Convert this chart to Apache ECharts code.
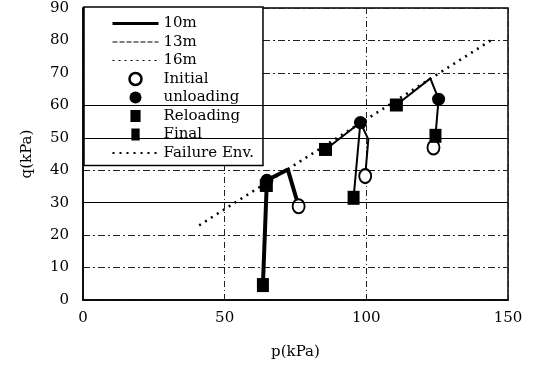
<!DOCTYPE html>
<html>
<head>
<meta charset="utf-8">
<script src="https://cdn.jsdelivr.net/npm/echarts@6/dist/echarts.min.js"></script>
<style>
  html, body { margin: 0; padding: 0; background: #fff; }
  #chart { width: 534px; height: 366px; }
</style>
</head>
<body>
<div id="chart"></div>
<script>
// Stress paths (p, q in kPa) for the three sampling depths
const path10m = [[76.1, 28.9], [72.3, 40.2], [64.9, 36.9], [63.5, 4.6]];
const path13m = [[99.6, 38.2], [100.7, 49.5], [97.9, 54.7], [95.5, 31.5]];
const path13mReload = [[85.6, 46.4], [97.9, 54.7]];
const path16m = [[110.6, 60.1], [122.6, 68.3], [125.5, 61.9], [124.4, 50.6], [123.7, 47.0]];

// Stage markers
const initialPts = [[76.1, 28.9], [99.6, 38.2], [123.7, 47.0]];
const unloadingPts = [[64.9, 36.9], [97.9, 54.7], [125.5, 61.9]];
const reloadingPts = [[64.7, 35.3], [85.6, 46.4], [110.6, 60.1]];
const finalPts = [[63.5, 4.6], [95.5, 31.5], [124.4, 50.6]];

// Failure envelope
const failureEnv = [[41, 23], [145, 80.6]];

// Axis ticks
const xTicks = [0, 50, 100, 150];
const yTicks = [0, 10, 20, 30, 40, 50, 60, 70, 80, 90];
const solidYLines = [30, 50, 60];

const FONT = 'DejaVu Serif';
const chart = echarts.init(document.getElementById('chart'), null, { renderer: 'canvas' });

function pathSeries(name, data, width) {
  return {
    name: name, type: 'line', data: data, symbol: 'none', z: 3,
    lineStyle: { color: '#000', width: width },
    itemStyle: { color: '#000' }
  };
}

// Legend entries for the paths: line only, no marker
const noMarker = { color: 'transparent', borderWidth: 0, opacity: 0 };

const option = {
  backgroundColor: '#fff',
  animation: false,
  grid: {
    left: 83, right: 26, top: 8, bottom: 66,
    show: true, borderColor: '#000', borderWidth: 1.5, backgroundColor: 'transparent'
  },
  xAxis: {
    type: 'value', min: xTicks[0], max: xTicks[xTicks.length - 1], interval: 50,
    name: 'p(kPa)', nameLocation: 'middle', nameGap: 45,
    nameTextStyle: { fontFamily: FONT, fontSize: 15, color: '#000' },
    axisLine: { show: true, lineStyle: { color: '#000', width: 1.5 } },
    axisTick: { show: false },
    axisLabel: { fontFamily: FONT, fontSize: 15, color: '#000', margin: 11 },
    splitLine: { show: true, lineStyle: { color: '#222', width: 1, type: [6, 3, 1, 3] } }
  },
  yAxis: {
    type: 'value', min: yTicks[0], max: yTicks[yTicks.length - 1], interval: 10,
    name: 'q(kPa)', nameLocation: 'middle', nameGap: 48,
    nameTextStyle: { fontFamily: FONT, fontSize: 15, color: '#000' },
    axisLine: { show: true, lineStyle: { color: '#000', width: 1.5 } },
    axisTick: { show: false },
    axisLabel: { fontFamily: FONT, fontSize: 15, color: '#000', margin: 14 },
    splitLine: { show: true, lineStyle: { color: '#222', width: 1, type: [7, 3, 2, 3] } }
  },
  legend: {
    orient: 'vertical', left: 84, top: 7,
    backgroundColor: '#fff', borderColor: '#000', borderWidth: 1.5, borderRadius: 0,
    padding: [9, 9, 5, 27],
    itemWidth: 46, itemHeight: 12, itemGap: 3.5,
    textStyle: { fontFamily: FONT, fontSize: 15, color: '#000' },
    data: [
      { name: '10m', lineStyle: { width: 3 }, itemStyle: noMarker },
      { name: '13m', lineStyle: { width: 1, type: [5, 2] }, itemStyle: noMarker },
      { name: '16m', lineStyle: { width: 1, type: [2, 4] }, itemStyle: noMarker },
      { name: 'Initial', icon: 'circle', itemStyle: { color: '#fff', borderColor: '#000', borderWidth: 2.5 } },
      { name: 'unloading', icon: 'circle' },
      { name: 'Reloading', icon: 'path://M0,0h11v13h-11z' },
      { name: 'Final', icon: 'path://M0,0h9v13h-9z' },
      { name: 'Failure Env.', lineStyle: { width: 2, type: [2, 5] }, itemStyle: noMarker }
    ]
  },
  series: [
    {
      name: 'Failure Env.', type: 'line', data: failureEnv, symbol: 'none', z: 2,
      lineStyle: { color: '#000', width: 2.5, type: [2, 5] }, itemStyle: { color: '#000' }
    },
    pathSeries('10m', path10m, 4),
    pathSeries('13m', path13m, 2),
    pathSeries('13m', path13mReload, 2),
    pathSeries('16m', path16m, 2),
    {
      name: 'Initial', type: 'scatter', data: initialPts, symbol: 'circle', symbolSize: [12, 14], z: 4,
      itemStyle: { color: '#fff', borderColor: '#000', borderWidth: 2, opacity: 1 }
    },
    {
      name: 'Final', type: 'scatter', data: finalPts, symbol: 'rect', symbolSize: [12, 14], z: 5,
      itemStyle: { color: '#000', opacity: 1 }
    },
    {
      name: 'Reloading', type: 'scatter', data: reloadingPts, symbol: 'rect', symbolSize: [13, 13], z: 5,
      itemStyle: { color: '#000', opacity: 1 }
    },
    {
      name: 'unloading', type: 'scatter', data: unloadingPts, symbol: 'circle', symbolSize: 13, z: 6,
      itemStyle: { color: '#000', opacity: 1 }
    },
    {
      // Solid reference lines at selected q levels
      name: 'grid-solid', type: 'line', data: [], silent: true,
      markLine: {
        silent: true, symbol: 'none', label: { show: false },
        lineStyle: { color: '#000', width: 1, type: 'solid' },
        data: solidYLines.map(v => ({ yAxis: v }))
      }
    }
  ]
};

chart.setOption(option);
</script>
</body>
</html>
